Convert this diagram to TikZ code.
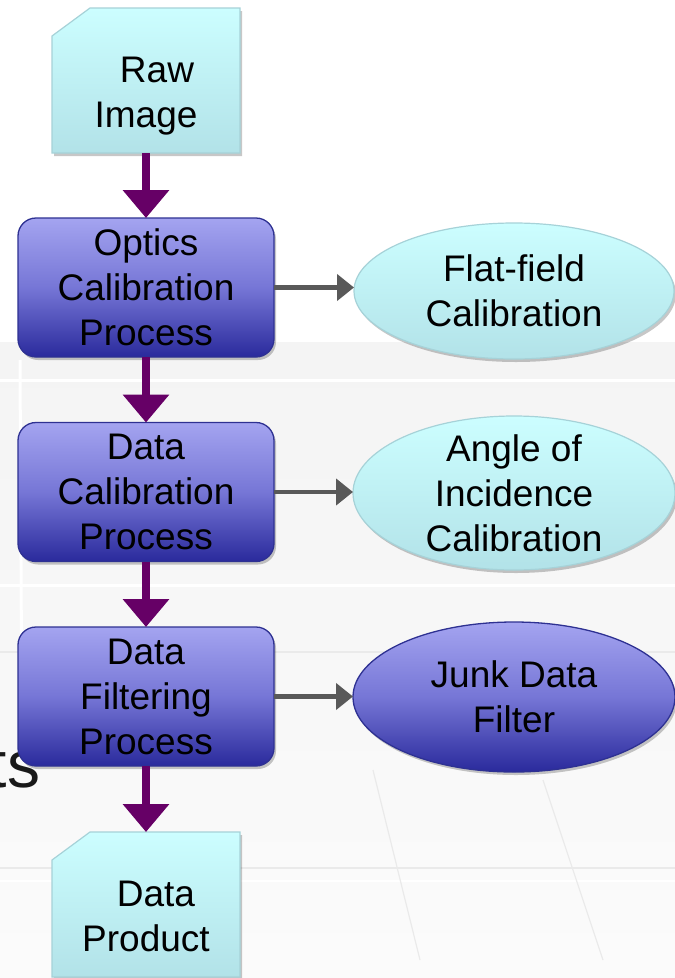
\documentclass[tikz,border=0pt]{standalone}
\usepackage{fontspec}
\setmainfont{Liberation Sans}
\usetikzlibrary{arrows.meta,shadows,calc,shapes.geometric}

\definecolor{procTop}{HTML}{A4A4F0}
\definecolor{procMid}{HTML}{7676D6}
\definecolor{procBot}{HTML}{2A2A9C}
\definecolor{procLine}{HTML}{2E3192}
\definecolor{aquaTop}{HTML}{CCFEFF}
\definecolor{aquaBot}{HTML}{B2E2E8}
\definecolor{aquaLine}{HTML}{A6D2D8}
\definecolor{flowPurple}{HTML}{660066}
\definecolor{sideGray}{HTML}{595959}
\definecolor{bgTop}{HTML}{F4F4F4}
\definecolor{bgBot}{HTML}{FBFBFB}
\definecolor{bgLine}{HTML}{EAEAEA}

% outline of a document card with its top-left corner cut off
\newcommand\cardoutline[1]{($(#1.north west)+(0,28)$) -- ($(#1.north west)+(38,0)$)
  -- (#1.north east) -- (#1.south east) -- (#1.south west) -- cycle}

\begin{document}
\begin{tikzpicture}[x=1pt, y=-1pt,
  every node/.style={inner sep=0pt, outer sep=0pt},
  txt/.style={font=\fontsize{37}{45}\selectfont, align=center, text=black},
  softshadow/.style={drop shadow={shadow xshift=2pt, shadow yshift=-3pt, opacity=.22, fill=black}},
  cardbox/.style={rectangle, minimum width=188pt, minimum height=145pt},
  cardfill/.style={top color=aquaTop, bottom color=aquaBot, draw=aquaLine, line width=1.2pt, softshadow},
  procbox/.style={txt, rectangle, rounded corners=18pt, minimum width=256pt, minimum height=139pt,
    draw=procLine, line width=1.3pt, top color=procTop, bottom color=procBot, middle color=procMid, softshadow},
  aquaoval/.style={txt, ellipse, inner ysep=-25pt, draw=aquaLine, line width=1.2pt,
    top color=aquaTop, bottom color=aquaBot, softshadow},
  bluoval/.style={txt, ellipse, inner ysep=-25pt, draw=procLine, line width=1.3pt,
    top color=procTop, bottom color=procBot, middle color=procMid, softshadow},
  flow/.style={draw=flowPurple, line width=8pt, -{Triangle[width=45pt,length=28pt]}},
  side/.style={draw=sideGray, line width=4.5pt, -{Triangle[width=26pt,length=17pt]}},
  bgline/.style={draw=bgLine, line width=1.2pt}
]
\useasboundingbox (0,0) rectangle (675,978);

% slide background
\fill[white] (0,0) rectangle (675,978);
\shade[top color=bgTop, bottom color=bgBot] (0,342) rectangle (675,978);
\draw[bgline, draw=white, line width=3pt] (0,380) -- (675,380);
\draw[bgline, draw=white, line width=3pt] (0,585) -- (675,585);
\draw[bgline] (0,652) -- (675,652);
\draw[bgline] (0,868) -- (675,868);
\draw[bgline, draw=white, line width=2pt] (0,881) -- (675,881);
\draw[bgline] (373,770) -- (420,960);
\draw[bgline] (543,780) -- (603,960);
\draw[bgline, draw=white, line width=3pt] (20,360) -- (22,760);

% remnant of slide text behind the flow
\node[font=\fontsize{66}{70}\selectfont, text=black!90, anchor=base west] (remnant) at (-11,787) {ts};

% input card
\node[cardbox] (raw) at (146,80.5) {};
\path[cardfill] \cardoutline{raw};
\node[txt] (rawlabel) at ($(raw.center)+(0,16)$) {\hspace*{22pt}Raw\\Image};

% processing stages
\node[procbox] (optics) at (146,287.5) {Optics\\Calibration\\Process};
\node[procbox] (datacal) at (146,492) {Data\\Calibration\\Process};
\node[procbox] (filter) at (146,696.5) {Data\\Filtering\\Process};

% output card
\node[cardbox] (product) at (146,904.5) {};
\path[cardfill] \cardoutline{product};
\node[txt] (productlabel) at ($(product.center)+(0,12)$) {\hspace*{20pt}Data\\Product};

% side products
\node[aquaoval, minimum width=320pt, minimum height=136pt] (flat) at (514,291) {Flat-field\\Calibration};
\node[aquaoval, minimum width=322pt, minimum height=154pt] (angle) at (514,493) {Angle of\\Incidence\\Calibration};
\node[bluoval, minimum width=322pt, minimum height=150pt] (junk) at (514,697) {Junk Data\\Filter};

% main flow
\draw[flow] (raw.south) -- (optics.north);
\draw[flow] (optics.south) -- (datacal.north);
\draw[flow] (datacal.south) -- (filter.north);
\draw[flow] (filter.south) -- (product.north);

% branches
\draw[side] (optics.east) -- (optics.east -| flat.west);
\draw[side] (datacal.east) -- (datacal.east -| angle.west);
\draw[side] (filter.east) -- (filter.east -| junk.west);
\end{tikzpicture}
\end{document}
